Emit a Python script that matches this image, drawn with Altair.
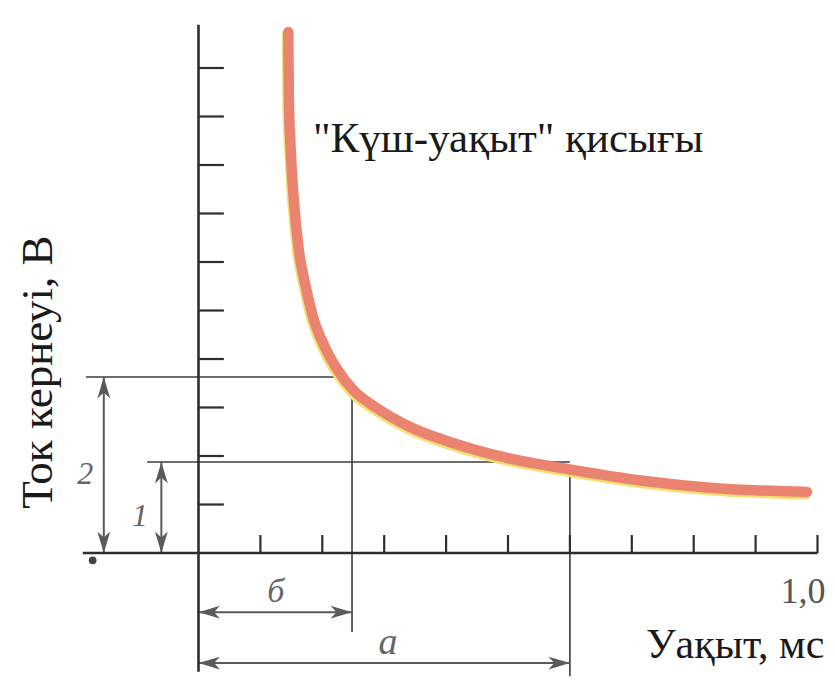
import altair as alt
import pandas as pd

# ---- data (time in ms, voltage in axis units) ----
curve_t = [0.145, 0.146, 0.149, 0.154, 0.162, 0.172, 0.185, 0.204, 0.225, 0.250,
           0.288, 0.342, 0.411, 0.492, 0.597, 0.724, 0.831, 0.983]
curve_v = [10.74, 9.34, 8.31, 7.28, 6.25, 5.57, 4.87, 4.25, 3.77, 3.36,
           2.99, 2.60, 2.27, 1.98, 1.73, 1.48, 1.34, 1.26]

x_ticks = [0.1, 0.2, 0.3, 0.4, 0.5, 0.6, 0.7, 0.8, 0.9, 1.0]
y_ticks = [1, 2, 3, 4, 5, 6, 7, 8, 9, 10]

rheobase = 1.876          # level "1"
double_rheobase = 3.63    # level "2"
chronaxie = 0.248         # time "б"
useful_time = 0.600       # time "a"

title_text = '"Күш-уақыт" қисығы'
x_title = "Уақыт, мс"
y_title = "Ток кернеуі, В"
x_end_label = "1,0"
mark_labels = ["2", "1", "б", "a"]

# ---- layout ----
W, H = 819, 676
X0, PXT = 190.5, 619.0   # plot x of t=0, pixels per ms
Y0, PXV = 545.0, 48.5    # plot y of v=0, pixels per unit
xs = alt.Scale(domain=[-X0 / PXT, (W - X0) / PXT], nice=False, zero=False)
ys = alt.Scale(domain=[-(H - Y0) / PXV, Y0 / PXV], nice=False, zero=False)

FONT = "Liberation Serif"
AX = "#2e2e2e"
GUIDE = "#3c3c3c"
ARROW = "#5a5a5a"


def X(f="t"):
    return alt.X(f"{f}:Q", scale=xs, axis=None)


def Y(f="v"):
    return alt.Y(f"{f}:Q", scale=ys, axis=None)


def rules(df, color, width):
    return alt.Chart(pd.DataFrame(df)).mark_rule(color=color, strokeWidth=width).encode(
        x=X(), x2="t2:Q", y=Y(), y2="v2:Q")


# axes lines
axes = rules({"t": [-0.187, 0.0], "t2": [1.0, 0.0],
              "v": [0.0, -2.45], "v2": [0.0, 10.89]}, AX, 2.6)

# ticks
TICK_V = 0.37
TICK_T = 0.041
xt = rules({"t": x_ticks, "t2": x_ticks, "v": [0.0] * len(x_ticks),
            "v2": [TICK_V] * len(x_ticks)}, AX, 2.2)
yt = rules({"t": [0.0] * len(y_ticks), "t2": [TICK_T] * len(y_ticks),
            "v": y_ticks, "v2": y_ticks}, AX, 2.2)

# guide lines
guides = rules({
    "t": [-0.182, -0.083, chronaxie, useful_time],
    "t2": [0.24, useful_time, chronaxie, useful_time],
    "v": [double_rheobase, rheobase, 3.36, 1.73],
    "v2": [double_rheobase, rheobase, -1.63, -2.54],
}, GUIDE, 1.6)

# dimension arrows
arr_lines = rules({
    "t": [0.0, 0.0, -0.153, -0.060],
    "t2": [chronaxie, useful_time, -0.153, -0.060],
    "v": [-1.22, -2.27, 0.0, 0.0],
    "v2": [-1.22, -2.27, double_rheobase, rheobase],
}, ARROW, 2.0)

heads = pd.DataFrame({
    "t": [0.0, chronaxie, 0.0, useful_time, -0.153, -0.153, -0.060, -0.060],
    "v": [-1.22, -1.22, -2.27, -2.27, double_rheobase, 0.0, rheobase, 0.0],
    "ang": [180, 0, 180, 0, 270, 90, 270, 90],
})
arr_heads = alt.Chart(heads).mark_point(
    shape="M0,0L-2,-0.6L-1.45,0L-2,0.6Z", filled=True, size=460,
    color=ARROW, opacity=1, strokeWidth=0
).encode(x=X(), y=Y(), angle=alt.Angle("ang:Q", scale=None))

dot = alt.Chart(pd.DataFrame({"t": [-0.171], "v": [-0.15]})).mark_point(
    shape="circle", filled=True, size=60, color="#444", opacity=1
).encode(x=X(), y=Y())

# curve
cdf = pd.DataFrame({"t": curve_t, "v": curve_v})
glow = alt.Chart(cdf).mark_line(
    color="#F4DF72", strokeWidth=10, interpolate="monotone", strokeCap="round",
    xOffset=-1.5, yOffset=2.5
).encode(x=X(), y=Y(), order="t:Q")
curve = alt.Chart(cdf).mark_line(
    color="#EA8470", strokeWidth=10.5, interpolate="monotone", strokeCap="round"
).encode(x=X(), y=Y(), order="t:Q")


def label(text, t, v, size, color="#1a1a1a", align="left", baseline="alphabetic",
          angle=0, style="normal"):
    kw = dict(font=FONT, fontSize=size, color=color, align=align,
              baseline=baseline, fontStyle=style)
    if angle:
        kw["angle"] = angle
    return alt.Chart(pd.DataFrame({"t": [t], "v": [v], "s": [text]})).mark_text(
        **kw).encode(x=X(), y=Y(), text="s:N")


texts = [
    label(title_text, 0.185, 8.27, 43),
    label(y_title, -0.2367, 3.73, 45, align="center", angle=270),
    label(x_title, 1.011, -2.165, 42, align="right"),
    label(x_end_label, 1.013, -1.03, 36, color="#555555", align="right"),
    label(mark_labels[0], -0.183, 1.63, 32, color="#666666", align="center",
          baseline="middle", style="italic"),
    label(mark_labels[1], -0.0945, 0.76, 32, color="#666666", align="center",
          baseline="middle", style="italic"),
    label(mark_labels[2], 0.125, -0.80, 34, color="#666666", align="center",
          baseline="middle", style="italic"),
    label(mark_labels[3], 0.306, -1.86, 38, color="#666666", align="center",
          baseline="middle", style="italic"),
]

chart = alt.layer(
    guides, arr_lines, arr_heads, axes, xt, yt, dot, glow, curve, *texts
).properties(
    width=W, height=H, padding=0,
    autosize=alt.AutoSizeParams(type="none"),
    background="#ffffff",
).configure_view(stroke=None)

chart.save("out.html", embed_options={"renderer": "svg", "actions": False})
